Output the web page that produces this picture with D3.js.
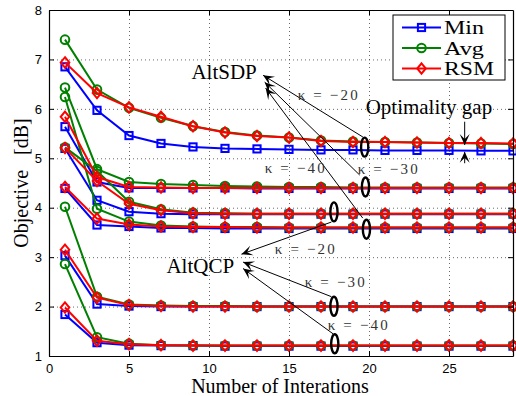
<!DOCTYPE html>
<html>
<head>
<meta charset="utf-8">
<script src="https://cdn.jsdelivr.net/npm/d3@7"></script>
<style>
body { margin: 0; background: #fff; }
svg { display: block; }
</style>
</head>
<body>
<div id="chart"></div>
<script>
const iterations = [1, 3, 5, 7, 9, 11, 13, 15, 17, 19, 21, 23, 25, 27, 29];

// AltSDP, kappa = -20
const sdp20Min = [6.85, 5.97, 5.46, 5.30, 5.23, 5.20, 5.19, 5.18, 5.17, 5.17, 5.16, 5.16, 5.16, 5.15, 5.15];
const sdp20Avg = [7.40, 6.39, 6.02, 5.82, 5.65, 5.53, 5.46, 5.42, 5.36, 5.34, 5.33, 5.32, 5.31, 5.30, 5.29];
const sdp20Rsm = [6.94, 6.32, 6.03, 5.84, 5.65, 5.52, 5.45, 5.42, 5.35, 5.33, 5.33, 5.32, 5.31, 5.31, 5.30];
// AltSDP, kappa = -30
const sdp30Min = [5.64, 4.52, 4.40, 4.40, 4.40, 4.40, 4.39, 4.39, 4.39, 4.39, 4.39, 4.39, 4.39, 4.39, 4.39];
const sdp30Avg = [6.43, 4.78, 4.52, 4.48, 4.46, 4.44, 4.43, 4.42, 4.42, 4.41, 4.41, 4.41, 4.41, 4.41, 4.41];
const sdp30Rsm = [5.84, 4.62, 4.42, 4.41, 4.40, 4.40, 4.40, 4.40, 4.40, 4.40, 4.40, 4.40, 4.40, 4.40, 4.40];
// AltSDP, kappa = -40
const sdp40Min = [4.39, 3.65, 3.62, 3.59, 3.59, 3.58, 3.58, 3.58, 3.58, 3.58, 3.58, 3.58, 3.58, 3.58, 3.58];
const sdp40Avg = [6.24, 3.98, 3.72, 3.64, 3.62, 3.61, 3.61, 3.60, 3.60, 3.60, 3.60, 3.60, 3.60, 3.60, 3.60];
const sdp40Rsm = [4.42, 3.78, 3.66, 3.62, 3.61, 3.61, 3.60, 3.60, 3.60, 3.60, 3.60, 3.60, 3.60, 3.60, 3.60];
// AltQCP, kappa = -20
const qcp20Min = [5.20, 4.15, 3.92, 3.88, 3.87, 3.87, 3.87, 3.87, 3.87, 3.87, 3.87, 3.87, 3.87, 3.87, 3.87];
const qcp20Avg = [5.22, 4.74, 4.12, 3.97, 3.90, 3.89, 3.88, 3.88, 3.88, 3.88, 3.88, 3.88, 3.88, 3.88, 3.88];
const qcp20Rsm = [5.21, 4.54, 4.08, 3.95, 3.89, 3.88, 3.88, 3.88, 3.88, 3.88, 3.88, 3.88, 3.88, 3.88, 3.88];
// AltQCP, kappa = -30
const qcp30Min = [3.03, 2.05, 2.01, 2.00, 2.00, 2.00, 2.00, 2.00, 2.00, 2.00, 2.00, 2.00, 2.00, 2.00, 2.00];
const qcp30Avg = [4.02, 2.20, 2.04, 2.02, 2.01, 2.01, 2.00, 2.00, 2.00, 2.00, 2.00, 2.00, 2.00, 2.00, 2.00];
const qcp30Rsm = [3.15, 2.18, 2.03, 2.01, 2.00, 2.00, 2.00, 2.00, 2.00, 2.00, 2.00, 2.00, 2.00, 2.00, 2.00];
// AltQCP, kappa = -40
const qcp40Min = [1.84, 1.27, 1.22, 1.21, 1.21, 1.20, 1.20, 1.20, 1.20, 1.20, 1.20, 1.20, 1.20, 1.20, 1.20];
const qcp40Avg = [2.86, 1.38, 1.25, 1.22, 1.21, 1.21, 1.21, 1.21, 1.21, 1.21, 1.21, 1.21, 1.21, 1.21, 1.21];
const qcp40Rsm = [1.98, 1.31, 1.24, 1.22, 1.21, 1.21, 1.21, 1.21, 1.21, 1.21, 1.21, 1.21, 1.21, 1.21, 1.21];

const methodNames = ["Min", "Avg", "RSM"];
const methodSeries = [
	[sdp20Min, sdp30Min, sdp40Min, qcp20Min, qcp30Min, qcp40Min],
	[sdp20Avg, sdp30Avg, sdp40Avg, qcp20Avg, qcp30Avg, qcp40Avg],
	[sdp20Rsm, sdp30Rsm, sdp40Rsm, qcp20Rsm, qcp30Rsm, qcp40Rsm]
];
const xTicks = [0, 5, 10, 15, 20, 25];
const yTicks = [1, 2, 3, 4, 5, 6, 7, 8];

// annotations, in data coordinates
const ellipses = [[19.73, 5.225], [19.78, 4.42], [19.84, 3.565], [17.81, 3.915], [17.81, 2.006], [17.86, 1.247]];
const arrows = [
	[19.62, 5.43, 13.38, 6.68], [19.42, 4.66, 13.48, 6.54], [19.61, 3.79, 13.54, 6.42],
	[17.65, 3.71, 12.03, 3.06], [17.65, 2.20, 12.13, 2.90], [17.75, 1.45, 12.13, 2.77]
];
const kappaLabels = [
	["κ = −20", 15.54, 6.176], ["κ = −40", 13.48, 4.698], ["κ = −30", 19.29, 4.692],
	["κ = −20", 14.11, 3.073], ["κ = −30", 15.98, 2.397], ["κ = −40", 17.42, 1.52]
];
const bigLabels = [["AltSDP", 8.9, 6.595], ["AltQCP", 7.34, 2.68], ["Optimality gap", 19.79, 5.893]];
const gapArrows = [[25.98, 5.74, 25.98, 5.27], [25.98, 4.90, 25.98, 5.13]];

const colors = ["#0000ff", "#008000", "#ff0000"];
const margin = {top: 10, right: 3, bottom: 40, left: 49};
const W = 516, H = 396;
const width = W - margin.left - margin.right;
const height = H - margin.top - margin.bottom;
const serif = "'Liberation Serif', 'DejaVu Serif', serif";
const sans = "'Liberation Sans', Arial, sans-serif";

const svg = d3.select("#chart")
	.append("svg")
		.attr("width", W)
		.attr("height", H);

svg.append("defs").append("marker")
		.attr("id", "head")
		.attr("viewBox", "-12 -6 14 12")
		.attr("refX", 0)
		.attr("refY", 0)
		.attr("markerWidth", 14)
		.attr("markerHeight", 12)
		.attr("markerUnits", "userSpaceOnUse")
		.attr("orient", "auto")
	.append("path")
		.attr("d", "M0,0 L-11,-5 L-6,0 L-11,5 Z")
		.attr("fill", "#000");

const g = svg.append("g")
	.attr("transform", `translate(${margin.left},${margin.top})`);

const x = d3.scaleLinear().domain([0, 29]).range([0, width]);
const y = d3.scaleLinear().domain([1, 8]).range([height, 0]);

// grid
const styleGrid = s => {
	s.select(".domain").remove();
	s.selectAll("line")
		.attr("stroke", "#444")
		.attr("stroke-width", 0.8)
		.attr("stroke-dasharray", "1,3");
};
g.append("g")
		.attr("transform", `translate(0,${height})`)
		.call(d3.axisBottom(x).tickValues(xTicks.slice(1)).tickSize(-height).tickFormat(""))
	.call(styleGrid);
g.append("g")
		.call(d3.axisLeft(y).tickValues(yTicks.slice(1, -1)).tickSize(-width).tickFormat(""))
	.call(styleGrid);

// series lines and markers
const line = d3.line()
	.x((d, i) => x(iterations[i]))
	.y(d => y(d));

const symbols = [
	sel => sel.append("rect").attr("x", -3.6).attr("y", -3.6).attr("width", 7.2).attr("height", 7.2),
	sel => sel.append("circle").attr("r", 4.3),
	sel => sel.append("path").attr("d", "M0,-5.2 L4.3,0 L0,5.2 L-4.3,0 Z")
];

methodSeries.forEach((seriesList, m) => {
	const layer = g.append("g");
	seriesList.forEach(vals => {
		layer.append("path")
			.datum(vals)
			.attr("d", line)
			.attr("fill", "none")
			.attr("stroke", colors[m])
			.attr("stroke-width", 2);
		const pts = layer.selectAll(null)
			.data(vals)
			.join("g")
				.attr("transform", (d, i) => `translate(${x(iterations[i])},${y(d)})`);
		symbols[m](pts)
			.attr("fill", "none")
			.attr("stroke", colors[m])
			.attr("stroke-width", 2);
	});
});

// axes (box with inward ticks)
const styleAxis = s => {
	s.select(".domain").attr("stroke", "#000").attr("stroke-width", 1.2);
	s.selectAll(".tick line").attr("stroke", "#000");
	s.selectAll("text").attr("font-family", sans).attr("font-size", 13).attr("fill", "#000");
};
g.append("g")
		.attr("transform", `translate(0,${height})`)
		.call(d3.axisBottom(x).tickValues(xTicks).tickSizeInner(-5).tickSizeOuter(0).tickPadding(8).tickFormat(d3.format("d")))
	.call(styleAxis);
g.append("g")
		.call(d3.axisTop(x).tickValues(xTicks).tickSizeInner(-5).tickSizeOuter(0).tickFormat(""))
	.call(styleAxis);
g.append("g")
		.call(d3.axisLeft(y).tickValues(yTicks).tickSizeInner(-5).tickSizeOuter(0).tickPadding(7).tickFormat(d3.format("d")))
	.call(styleAxis);
g.append("g")
		.attr("transform", `translate(${width},0)`)
		.call(d3.axisRight(y).tickValues(yTicks).tickSizeInner(-5).tickSizeOuter(0).tickFormat(""))
	.call(styleAxis);

// axis labels
svg.append("text")
	.attr("x", 280)
	.attr("y", 393)
	.attr("text-anchor", "middle")
	.attr("font-family", serif)
	.attr("font-size", 20)
	.text("Number of Interations");
svg.append("text")
	.attr("transform", "translate(28,183) rotate(-90)")
	.attr("text-anchor", "middle")
	.attr("font-family", serif)
	.attr("font-size", 20)
	.text("Objective\u00a0\u00a0\u00a0[dB]");

// annotations
const ann = g.append("g");
ann.selectAll("ellipse")
	.data(ellipses)
	.join("ellipse")
		.attr("cx", d => x(d[0]))
		.attr("cy", d => y(d[1]))
		.attr("rx", 3.6)
		.attr("ry", 9.5)
		.attr("fill", "none")
		.attr("stroke", "#000")
		.attr("stroke-width", 2.4);
ann.selectAll("line.arrow")
	.data(arrows.concat(gapArrows))
	.join("line")
		.attr("class", "arrow")
		.attr("x1", d => x(d[0]))
		.attr("y1", d => y(d[1]))
		.attr("x2", d => x(d[2]))
		.attr("y2", d => y(d[3]))
		.attr("stroke", "#000")
		.attr("stroke-width", 1)
		.attr("marker-end", "url(#head)");
ann.selectAll("text.kappa")
	.data(kappaLabels)
	.join("text")
		.attr("class", "kappa")
		.attr("x", d => x(d[1]))
		.attr("y", d => y(d[2]))
		.attr("font-family", serif)
		.attr("font-size", 15)
		.attr("fill", "#333")
		.attr("textLength", 60)
		.attr("lengthAdjust", "spacing")
		.text(d => d[0]);
ann.selectAll("text.big")
	.data(bigLabels)
	.join("text")
		.attr("class", "big")
		.attr("x", d => x(d[1]))
		.attr("y", d => y(d[2]))
		.attr("font-family", serif)
		.attr("font-size", 21)
		.text(d => d[0]);

// legend
const leg = svg.append("g").attr("transform", "translate(393,15)");
leg.append("rect")
	.attr("width", 112)
	.attr("height", 65)
	.attr("fill", "#fff")
	.attr("stroke", "#000")
	.attr("stroke-width", 1);
methodNames.forEach((name, m) => {
	const row = leg.append("g").attr("transform", `translate(0,${12.5 + m * 20.5})`);
	row.append("line")
		.attr("x1", 9).attr("x2", 48)
		.attr("stroke", colors[m])
		.attr("stroke-width", 2);
	symbols[m](row.append("g").attr("transform", "translate(28.5,0)"))
		.attr("fill", "none")
		.attr("stroke", colors[m])
		.attr("stroke-width", 2);
	row.append("text")
		.attr("x", 51)
		.attr("y", 6.5)
		.attr("font-family", serif)
		.attr("font-size", 18)
		.attr("textLength", name === "RSM" ? 50 : 40)
		.attr("lengthAdjust", "spacingAndGlyphs")
		.text(name);
});
</script>
</body>
</html>
